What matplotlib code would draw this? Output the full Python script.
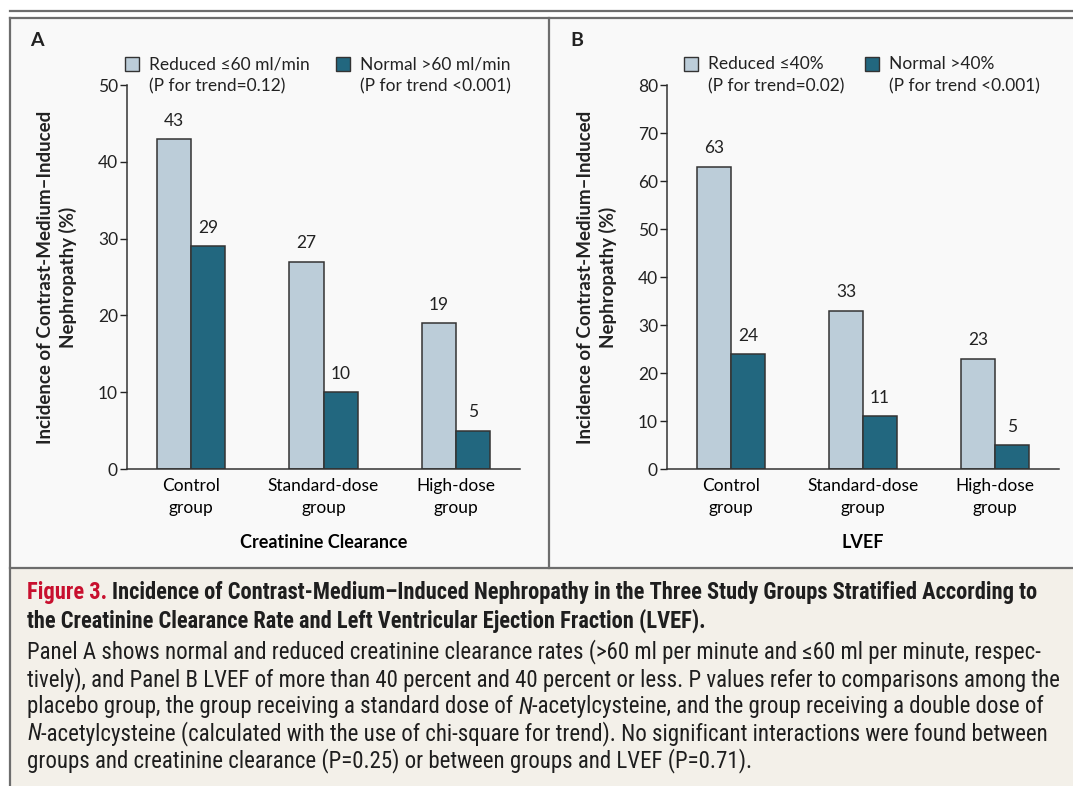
import matplotlib
matplotlib.use('Agg')
import matplotlib.pyplot as plt
import numpy as np
from matplotlib import font_manager
from matplotlib.patches import Rectangle
from matplotlib.lines import Line2D

# data
groups = ['Control\ngroup', 'Standard-dose\ngroup', 'High-dose\ngroup']
crcl_reduced = [43, 27, 19]
crcl_normal = [29, 10, 5]
lvef_reduced = [63, 33, 23]
lvef_normal = [24, 11, 5]

legend_a = [('Reduced \u226460 ml/min', '(P for trend=0.12)'), ('Normal >60 ml/min', '(P for trend <0.001)')]
legend_b = [('Reduced \u226440%', '(P for trend=0.02)'), ('Normal >40%', '(P for trend <0.001)')]
ylabel = 'Incidence of Contrast-Medium\u2013Induced\nNephropathy (%)'

title_lines = [
    [('Figure 3.', 'red', False), (' ', None, False),
     ('Incidence of Contrast-Medium\u2013Induced Nephropathy in the Three Study Groups Stratified According to', 'k', False)],
    [('the Creatinine Clearance Rate and Left Ventricular Ejection Fraction (LVEF).', 'k', False)],
]
body_lines = [
    [('Panel A shows normal and reduced creatinine clearance rates (>60 ml per minute and \u226460 ml per minute, respec-', 'k', False)],
    [('tively), and Panel B LVEF of more than 40 percent and 40 percent or less. P values refer to comparisons among the', 'k', False)],
    [('placebo group, the group receiving a standard dose of', 'k', False), (' ', None, False), ('N', 'k', True),
     ('-acetylcysteine, and the group receiving a double dose of', 'k', False)],
    [('N', 'k', True), ('-acetylcysteine (calculated with the use of chi-square for trend). No significant interactions were found between', 'k', False)],
    [('groups and creatinine clearance (P=0.25) or between groups and LVEF (P=0.71).', 'k', False)],
]

LIGHT = '#bccdd9'
DARK = '#22677f'
EDGE = '#333333'
BORDER = '#6d6d6d'
FONT = ['Lato', 'DejaVu Sans']
FS = 12.5

names = {f.name for f in font_manager.fontManager.ttflist}
cap_font = 'DejaVu Sans'
for cand in ['Liberation Sans Narrow', 'Roboto Condensed', 'Open Sans Condensed', 'Noto Sans']:
    if cand in names:
        cap_font = cand
        break
CAP = [cap_font, 'DejaVu Sans']

plt.rcParams['font.family'] = FONT
plt.rcParams['text.color'] = '#222222'

W, H = 1073, 786
fig = plt.figure(figsize=(W / 100, H / 100), dpi=100)
fig.patch.set_facecolor('white')


def fx(px):
    return px / W


def fy(py):
    return 1 - py / H


# backgrounds and frame
fig.patches.append(Rectangle((fx(10), fy(568)), 1 - fx(10), fy(18) - fy(568), transform=fig.transFigure,
                             facecolor='#f9f9f9', edgecolor='none', zorder=-2))
fig.patches.append(Rectangle((fx(10), 0), 1 - fx(10), fy(568), transform=fig.transFigure,
                             facecolor='#f3f0e9', edgecolor='none', zorder=-2))
for xs, ys in [((10, W), (11, 11)), ((10, W), (18, 18)), ((10, 10), (18, H)),
               ((549, 549), (18, 568)), ((10, W), (568, 568))]:
    fig.lines.append(Line2D([fx(v) for v in xs], [fy(v) for v in ys], transform=fig.transFigure,
                            color=BORDER, lw=1.6, zorder=1))


def panel(left, right, reduced, normal, ymax, step, letter, xlabel, leg, leg_x, ylab_x):
    ax = fig.add_axes([fx(left), fy(469), fx(right) - fx(left), fy(85) - fy(469)])
    ax.set_facecolor('none')
    x = np.arange(len(groups))
    w = 0.257
    ax.bar(x - w / 2, reduced, w, color=LIGHT, edgecolor=EDGE, linewidth=1.1)
    ax.bar(x + w / 2, normal, w, color=DARK, edgecolor=EDGE, linewidth=1.1)
    for xi, v in zip(x - w / 2, reduced):
        ax.annotate(str(v), (xi, v), xytext=(0, 9.5), textcoords='offset points', ha='center', va='baseline', fontsize=FS)
    for xi, v in zip(x + w / 2, normal):
        ax.annotate(str(v), (xi, v), xytext=(0, 9.5), textcoords='offset points', ha='center', va='baseline', fontsize=FS)
    ax.set_xlim(-0.483, 2.483)
    ax.set_ylim(0, ymax)
    ax.set_yticks(np.arange(0, ymax + 1, step))
    ax.set_xticks(x)
    ax.set_xticklabels(groups, fontsize=FS, linespacing=1.45)
    ax.tick_params(axis='x', length=0, pad=6.5)
    ax.tick_params(axis='y', length=5, width=1, pad=1.5, labelsize=FS, colors='#222222')
    for s in ['top', 'right']:
        ax.spines[s].set_visible(False)
    for s in ['left', 'bottom']:
        ax.spines[s].set_linewidth(1.1)
        ax.spines[s].set_color('#333333')
    ax.set_xlabel(xlabel, fontsize=FS + 0.5, fontweight='bold', labelpad=13)
    fig.text(fx(ylab_x), fy(277), ylabel, rotation=90, ha='center', va='center', fontsize=FS + 1,
             fontweight='bold', linespacing=1.35, multialignment='center')
    fig.text(fx(left - 97), fy(40), letter, ha='left', va='center', fontsize=14, fontweight='bold')
    for (l1, l2), color, sx in zip(leg, [LIGHT, DARK], leg_x):
        fig.patches.append(Rectangle((fx(sx), fy(71)), fx(14), 14 / H, transform=fig.transFigure,
                                     facecolor=color, edgecolor=EDGE, linewidth=1, zorder=3))
        fig.text(fx(sx + 24), fy(64), l1, ha='left', va='center', fontsize=FS)
        fig.text(fx(sx + 24), fy(86), l2, ha='left', va='center', fontsize=FS)
    return ax


panel(127, 520, crcl_reduced, crcl_normal, 50, 10, 'A', 'Creatinine Clearance', legend_a, [125, 336], 57)
panel(667, 1059, lvef_reduced, lvef_normal, 80, 10, 'B', 'LVEF', legend_b, [684, 865], 597)

# caption, sized so the long lines span the caption width
renderer = fig.canvas.get_renderer()


def text_width(s, size, weight, style='normal'):
    t = fig.text(0, 0, s, fontsize=size, fontweight=weight, family=CAP, fontstyle=style)
    wpx = t.get_window_extent(renderer=renderer).width
    t.remove()
    return wpx


def fit_size(s, weight, target):
    return 12 * target / text_width(s, 12, weight)


def draw_runs(y, runs, size, weight):
    x = 27
    sp = text_width('x x', size, weight) - text_width('xx', size, weight)
    for s, color, italic in runs:
        if s == ' ':
            x += sp
            continue
        c = '#c8102e' if color == 'red' else '#1e1e1e'
        st = 'italic' if italic else 'normal'
        t = fig.text(fx(x), fy(y), s, fontsize=size, fontweight=weight, color=c, family=CAP,
                     fontstyle=st, ha='left', va='center')
        x += t.get_window_extent(renderer=renderer).width


title_size = fit_size('Figure 3. ' + title_lines[0][2][0], 'bold', 1017)
body_size = fit_size(body_lines[1][0][0], 'normal', 1032)
for y, runs in zip([593, 621], title_lines):
    draw_runs(y, runs, title_size, 'bold')
for y, runs in zip([652, 680, 707, 734, 761], body_lines):
    draw_runs(y, runs, body_size, 'normal')

fig.savefig('out.png', dpi=100, facecolor=fig.get_facecolor())
